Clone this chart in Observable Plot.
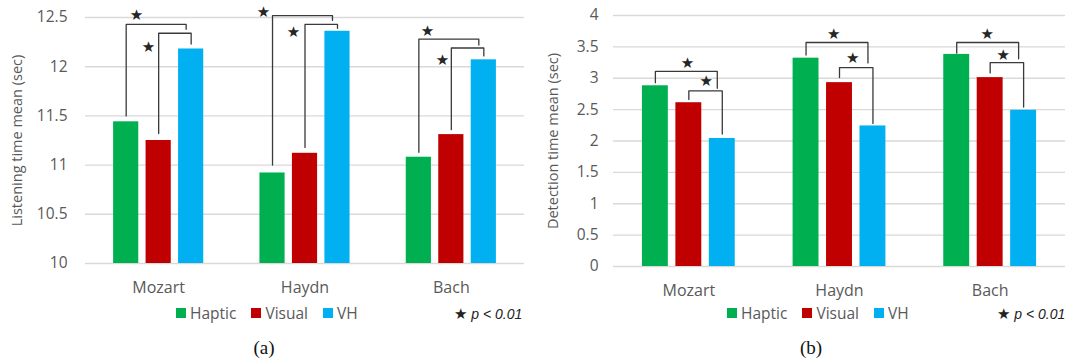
<!DOCTYPE html>
<html><head><meta charset="utf-8">
<script src="https://cdn.jsdelivr.net/npm/d3@7"></script>
<script src="https://cdn.jsdelivr.net/npm/@observablehq/plot@0.6"></script>
<style>
body{margin:0;background:#fff;}
#wrap{display:flex;width:1079px;height:363px;overflow:hidden;}
.panel{position:relative;height:363px;}
.panel svg{position:absolute;left:0;top:0;}
.legend{position:absolute;top:302px;display:flex;align-items:center;font-family:"Open Sans";font-size:15.5px;color:#595959;height:22px;}
.sw{display:inline-block;width:10px;height:10px;margin-right:4px;}
.item{display:flex;align-items:center;margin-right:15px;}
.plab{position:absolute;top:305px;font-family:"Liberation Sans";font-size:14px;color:#222;white-space:nowrap;}
.plab i{font-style:italic;}
.star{font-family:"DejaVu Sans";font-style:normal;font-size:15px;}
.cap{position:absolute;top:337px;font-family:"Liberation Serif";font-size:19px;color:#111;transform:translateX(-50%);}
</style></head>
<body><div id="wrap"><div class="panel" id="pa" style="width:540px"></div><div class="panel" id="pb" style="width:539px"></div></div>
<script>
// ---- data ----
const composers = ["Mozart", "Haydn", "Bach"];
const conditions = ["Haptic", "Visual", "VH"];
const conditionColors = ["#00B050", "#C00000", "#00B0F0"];

const listeningHaptic = [11.44, 10.92, 11.08];
const listeningVisual = [11.25, 11.12, 11.31];
const listeningVH = [12.18, 12.36, 12.07];

const detectionHaptic = [2.88, 3.32, 3.38];
const detectionVisual = [2.61, 2.93, 3.01];
const detectionVH = [2.04, 2.24, 2.49];

const listeningTicks = [10, 10.5, 11, 11.5, 12, 12.5];
const detectionTicks = [0, 0.5, 1, 1.5, 2, 2.5, 3, 3.5, 4];

// significance brackets (y levels in data units)
const listeningSig = [
  {composer: "Mozart", from: "Haptic", to: "VH", foot: 11.50, level: 12.43, end: 12.38, outer: true},
  {composer: "Mozart", from: "Visual", to: "VH", foot: 11.32, level: 12.34, end: 12.23, outer: false},
  {composer: "Haydn", from: "Haptic", to: "VH", foot: 11.00, level: 12.52, end: 12.47, outer: true},
  {composer: "Haydn", from: "Visual", to: "VH", foot: 11.18, level: 12.43, end: 12.39, outer: false},
  {composer: "Bach", from: "Haptic", to: "VH", foot: 11.13, level: 12.28, end: 12.22, outer: true},
  {composer: "Bach", from: "Visual", to: "VH", foot: 11.36, level: 12.19, end: 12.11, outer: false}
];
const listeningStars = [
  {composer: "Mozart", offset: -0.152, y: 12.52},
  {composer: "Mozart", offset: -0.070, y: 12.20},
  {composer: "Haydn", offset: -0.284, y: 12.55},
  {composer: "Haydn", offset: -0.079, y: 12.35},
  {composer: "Bach", offset: -0.163, y: 12.36},
  {composer: "Bach", offset: -0.060, y: 12.07}
];
const detectionSig = [
  {composer: "Mozart", from: "Haptic", to: "VH", foot: 2.93, level: 3.11, end: 2.84, outer: true},
  {composer: "Mozart", from: "Visual", to: "VH", foot: 2.66, level: 2.80, end: 2.11, outer: false},
  {composer: "Haydn", from: "Haptic", to: "VH", foot: 3.37, level: 3.57, end: 3.245, outer: true},
  {composer: "Haydn", from: "Visual", to: "VH", foot: 3.01, level: 3.17, end: 2.28, outer: false},
  {composer: "Bach", from: "Haptic", to: "VH", foot: 3.40, level: 3.57, end: 3.31, outer: true},
  {composer: "Bach", from: "Visual", to: "VH", foot: 3.085, level: 3.25, end: 2.54, outer: false}
];
const detectionStars = [
  {composer: "Mozart", offset: -0.009, y: 3.24},
  {composer: "Mozart", offset: 0.115, y: 2.95},
  {composer: "Haydn", offset: -0.038, y: 3.70},
  {composer: "Haydn", offset: 0.088, y: 3.32},
  {composer: "Bach", offset: -0.020, y: 3.71},
  {composer: "Bach", offset: 0.086, y: 3.37}
];

// ---- drawing ----
const STEP = 0.222, HALF = 0.086;
function xPos(composer, condition) {
  return composers.indexOf(composer) + (conditions.indexOf(condition) - 1) * STEP;
}

function makePanel(o) {
  const bars = [];
  composers.forEach((c, i) => conditions.forEach((k, j) => bars.push({composer: c, condition: k, value: o.series[j][i]})));
  const unitPx = (o.width - o.marginLeft - o.marginRight) / 3;
  const lines = [];
  o.sig.forEach((b, id) => {
    const xl = xPos(b.composer, b.from);
    const xr = xPos(b.composer, b.to) - (b.outer ? 5 / unitPx : 0);
    lines.push({id, x: xl, y: b.foot}, {id, x: xl, y: b.level}, {id, x: xr, y: b.level}, {id, x: xr, y: b.end});
  });
  return Plot.plot({
    width: o.width, height: 300,
    marginLeft: o.marginLeft, marginRight: o.marginRight, marginTop: o.marginTop, marginBottom: o.marginBottom,
    style: {fontFamily: "Open Sans", fontSize: "15px", color: "#595959", background: "transparent"},
    x: {domain: [-0.5, 2.5]},
    y: {domain: o.domain},
    color: {domain: conditions, range: conditionColors},
    marks: [
      Plot.gridY(o.ticks, {stroke: "#d9d9d9", strokeOpacity: 1, strokeWidth: 1.4}),
      Plot.rectY(bars, {x1: d => xPos(d.composer, d.condition) - HALF, x2: d => xPos(d.composer, d.condition) + HALF, y1: o.domain[0], y2: "value", fill: "condition"}),
      Plot.axisY(o.ticks, {tickSize: 0, tickPadding: o.tickPadY, tickFormat: d => String(d), label: null, fontSize: 15.5}),
      Plot.axisX([0, 1, 2], {tickSize: 0, tickPadding: 18, tickFormat: i => composers[i], label: null, fontSize: 16}),
      Plot.line(lines, {x: "x", y: "y", z: "id", stroke: "#3a3a3a", strokeWidth: 1.3}),
      Plot.text(o.stars, {x: d => composers.indexOf(d.composer) + d.offset, y: "y", text: () => "★", fontSize: 15, fill: "#262626", fontFamily: "DejaVu Sans"}),
      Plot.text([o.label], {frameAnchor: "left", textAnchor: "middle", dx: o.labelDx, rotate: -90, text: d => d, fontSize: 14.5, fill: "#595959"})
    ]
  });
}

function legendHtml(left) {
  const div = document.createElement("div");
  div.className = "legend";
  div.style.left = left + "px";
  conditions.forEach((c, j) => {
    const it = document.createElement("span");
    it.className = "item";
    it.innerHTML = `<span class="sw" style="background:${conditionColors[j]}"></span>${c}`;
    div.appendChild(it);
  });
  return div;
}
function addExtras(panel, legendLeft, pLeft, capCenter, capText) {
  panel.appendChild(legendHtml(legendLeft));
  const p = document.createElement("div");
  p.className = "plab";
  p.style.left = pLeft + "px";
  p.innerHTML = `<span class="star">★</span> <i>p &lt; 0.01</i>`;
  panel.appendChild(p);
  const cap = document.createElement("div");
  cap.className = "cap";
  cap.style.left = capCenter + "px";
  cap.textContent = capText;
  panel.appendChild(cap);
}

const pa = document.getElementById("pa");
pa.appendChild(makePanel({
  width: 540, marginLeft: 85, marginRight: 16, marginTop: 17, marginBottom: 37,
  domain: [10, 12.5], ticks: listeningTicks, tickPadY: 18,
  series: [listeningHaptic, listeningVisual, listeningVH],
  sig: listeningSig, stars: listeningStars,
  label: "Listening time mean (sec)", labelDx: -68
}));
addExtras(pa, 176, 454, 264, "(a)");

const pb = document.getElementById("pb");
pb.appendChild(makePanel({
  width: 539, marginLeft: 73, marginRight: 14, marginTop: 15, marginBottom: 34,
  domain: [0, 4], ticks: detectionTicks, tickPadY: 15,
  series: [detectionHaptic, detectionVisual, detectionVH],
  sig: detectionSig, stars: detectionStars,
  label: "Detection time mean (sec)", labelDx: -60
}));
addExtras(pb, 187, 457, 271, "(b)");
</script></body></html>
